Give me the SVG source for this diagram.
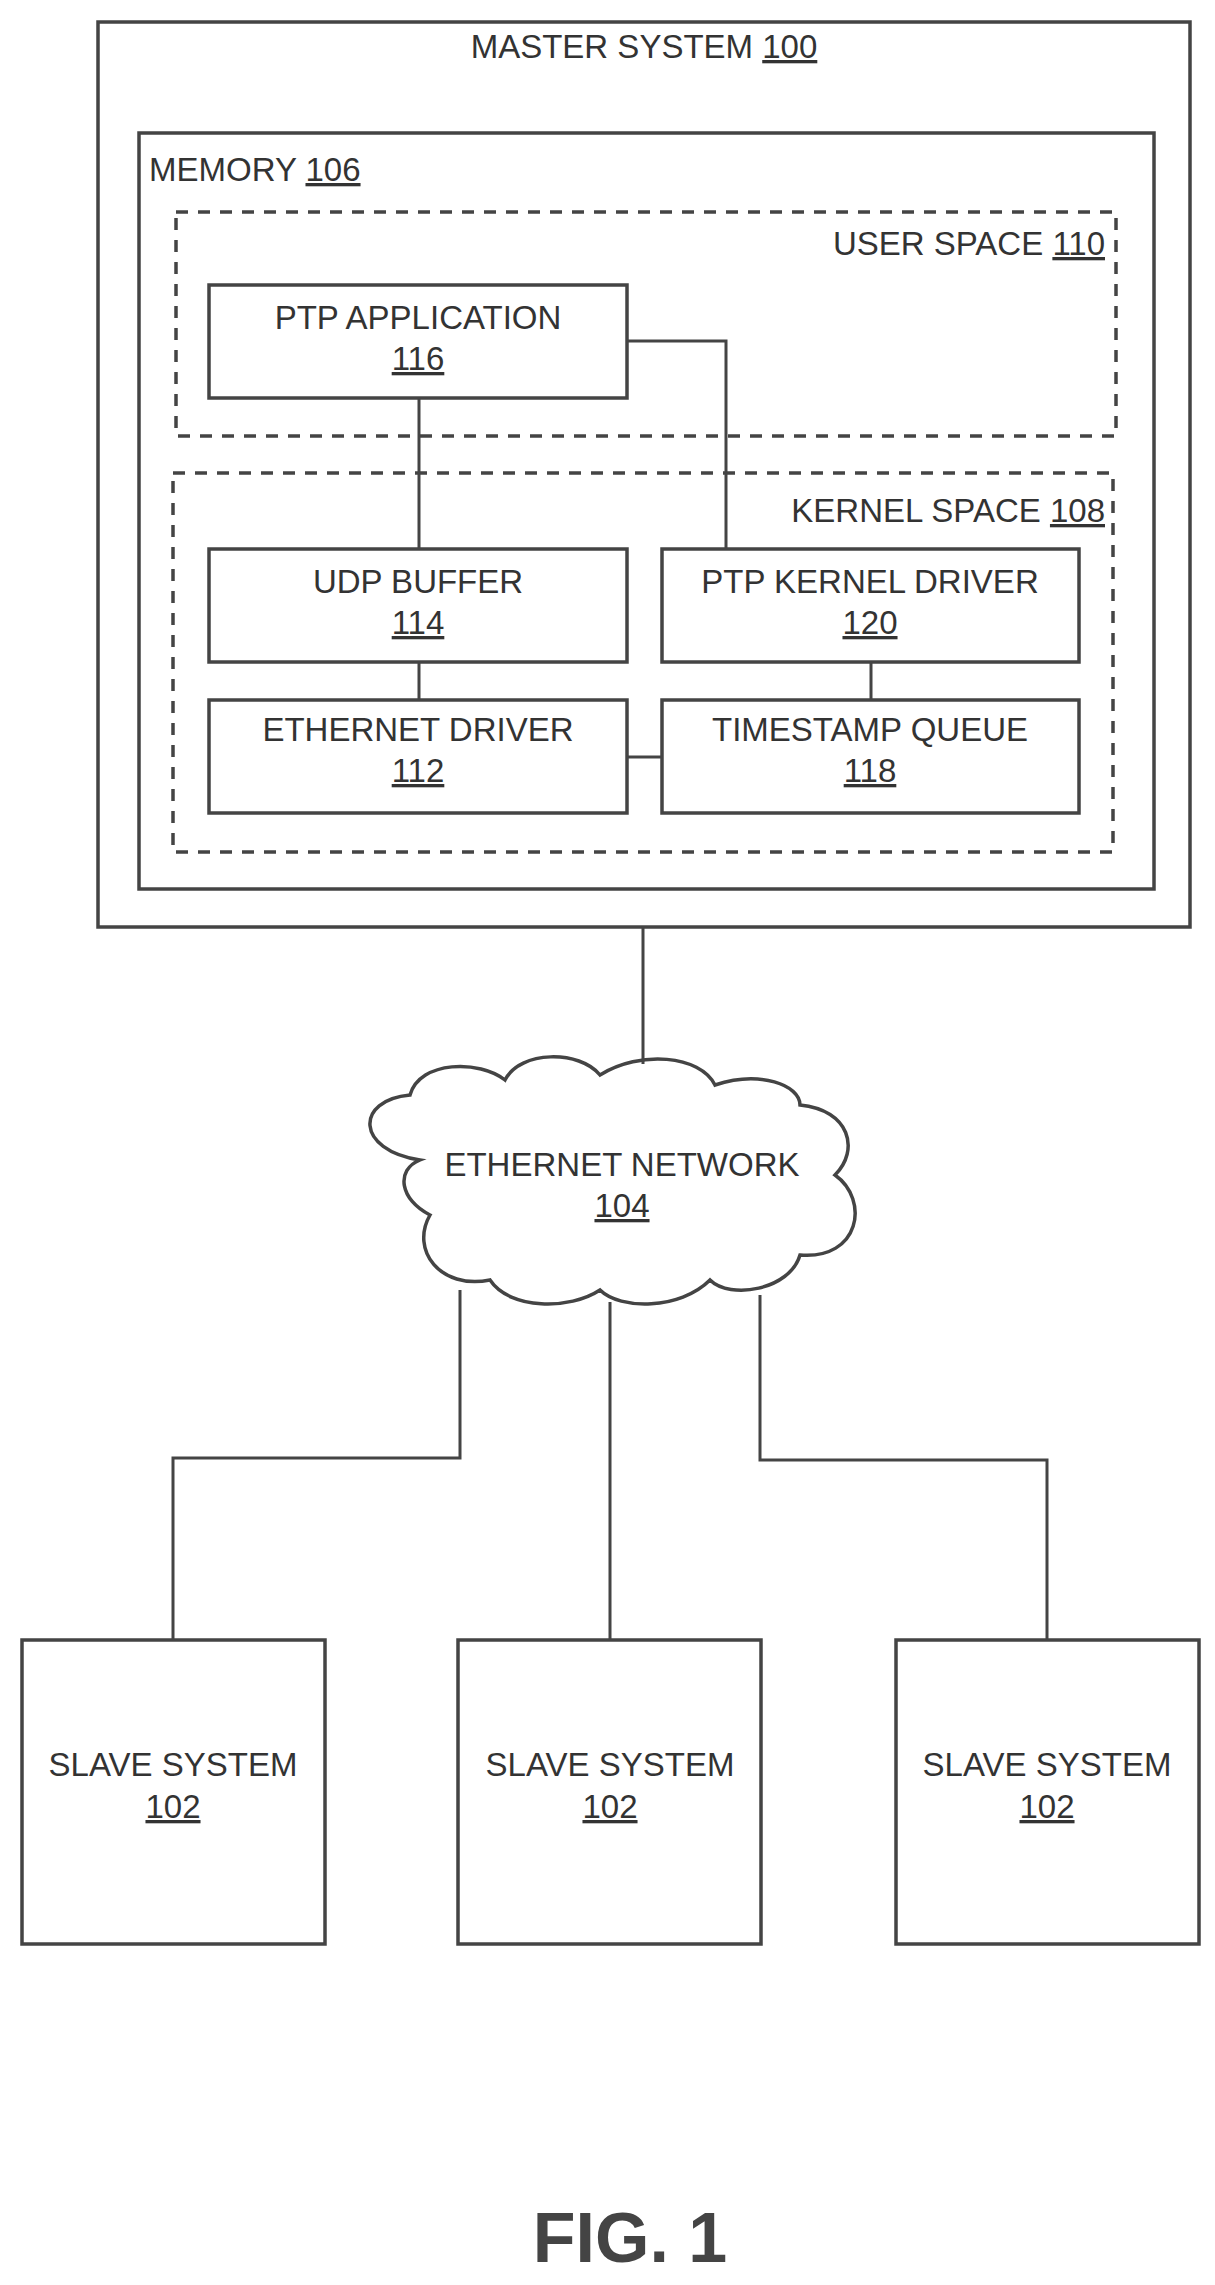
<svg xmlns="http://www.w3.org/2000/svg" width="1215" height="2285" viewBox="0 0 1215 2285">
<style>
.b{fill:none;stroke:#444;stroke-width:3.5}
.d{fill:none;stroke:#444;stroke-width:3.5;stroke-dasharray:12 10}
.t{font-family:"Liberation Sans",Arial,sans-serif;font-size:33px;fill:#333}
.m{text-anchor:middle}
.e{text-anchor:end}
.c{fill:none;stroke:#444;stroke-width:3}
</style>
<rect width="1215" height="2285" fill="#fff"/>
<g id="master"><rect class="b" x="98" y="22" width="1092" height="905"/><text class="t m" x="644" y="58">MASTER SYSTEM <tspan text-decoration="underline">100</tspan></text></g>
<g id="memory"><rect class="b" x="139" y="133" width="1015" height="756"/><text class="t" x="149" y="181">MEMORY <tspan text-decoration="underline">106</tspan></text></g>
<g id="userspace"><rect class="d" x="176" y="212" width="940" height="224"/><text class="t e" x="1105" y="255">USER SPACE <tspan text-decoration="underline">110</tspan></text></g>
<g id="kernelspace"><rect class="d" x="173" y="473" width="940" height="379"/><text class="t e" x="1105" y="522">KERNEL SPACE <tspan text-decoration="underline">108</tspan></text></g>
<g id="ptpapp"><rect class="b" x="209" y="285" width="418" height="113"/><text class="t m" x="418" y="329">PTP APPLICATION</text><text class="t m" x="418" y="370" text-decoration="underline">116</text></g>
<g id="udp"><rect class="b" x="209" y="549" width="418" height="113"/><text class="t m" x="418" y="593">UDP BUFFER</text><text class="t m" x="418" y="634" text-decoration="underline">114</text></g>
<g id="ptpk"><rect class="b" x="662" y="549" width="417" height="113"/><text class="t m" x="870" y="593">PTP KERNEL DRIVER</text><text class="t m" x="870" y="634" text-decoration="underline">120</text></g>
<g id="ethdrv"><rect class="b" x="209" y="700" width="418" height="113"/><text class="t m" x="418" y="741">ETHERNET DRIVER</text><text class="t m" x="418" y="782" text-decoration="underline">112</text></g>
<g id="tsq"><rect class="b" x="662" y="700" width="417" height="113"/><text class="t m" x="870" y="741">TIMESTAMP QUEUE</text><text class="t m" x="870" y="782" text-decoration="underline">118</text></g>
<g id="cloud"><path class="b" d="M420 1160 C355 1150 355 1100 410 1095 C420 1060 480 1060 505 1080 C520 1050 580 1050 600 1075 C640 1050 700 1055 715 1085 C760 1070 800 1085 800 1105 C850 1110 860 1150 835 1175 C870 1200 860 1260 800 1255 C790 1290 730 1300 710 1280 C680 1310 620 1310 600 1290 C570 1310 510 1310 490 1280 C440 1290 410 1250 430 1215 C400 1200 395 1170 420 1160 Z"/><text class="t m" x="622" y="1176">ETHERNET NETWORK</text><text class="t m" x="622" y="1217" text-decoration="underline">104</text></g>
<g id="slave1"><rect class="b" x="22" y="1640" width="303" height="304"/><text class="t m" x="173" y="1776">SLAVE SYSTEM</text><text class="t m" x="173" y="1818" text-decoration="underline">102</text></g>
<g id="slave2"><rect class="b" x="458" y="1640" width="303" height="304"/><text class="t m" x="610" y="1776">SLAVE SYSTEM</text><text class="t m" x="610" y="1818" text-decoration="underline">102</text></g>
<g id="slave3"><rect class="b" x="896" y="1640" width="303" height="304"/><text class="t m" x="1047" y="1776">SLAVE SYSTEM</text><text class="t m" x="1047" y="1818" text-decoration="underline">102</text></g>
<g id="connectors">
<path class="c" d="M419 398V549M627 341H726V549M419 662V700M871 662V700M627 757H662M643 927V1064M460 1290V1458H173V1640M610 1302V1640M760 1295V1460H1047V1640"/>
</g>
<text x="630" y="2262" style="font-family:'Liberation Sans',Arial,sans-serif;font-size:70px;font-weight:bold;fill:#444" text-anchor="middle">FIG. 1</text>
</svg>
